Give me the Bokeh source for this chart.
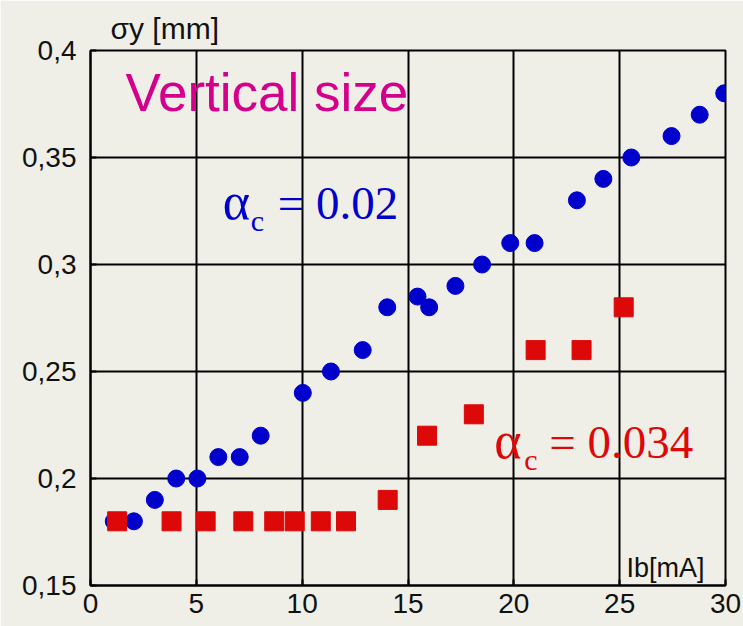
from bokeh.plotting import figure
from bokeh.models import Label, FixedTicker, Range1d, Title
from bokeh.embed import file_html
from bokeh.resources import INLINE

# --- data ---
blue_x = [1.1, 2.05, 3.04, 4.05, 5.05, 6.04, 7.05, 8.04, 10.03, 11.36, 12.86, 14.02,
          15.45, 16.0, 17.24, 18.5, 19.83, 20.98, 22.98, 24.23, 25.55, 27.45, 28.78, 29.94]
blue_y = [0.18, 0.18, 0.19, 0.20, 0.20, 0.21, 0.21, 0.22, 0.24, 0.25, 0.26, 0.28,
          0.285, 0.28, 0.29, 0.30, 0.31, 0.31, 0.33, 0.34, 0.35, 0.36, 0.37, 0.38]
red_x = [1.26, 3.83, 5.44, 7.22, 8.68, 9.65, 10.88, 12.07, 14.04, 15.9, 18.11, 21.03, 23.2, 25.19]
red_y = [0.18, 0.18, 0.18, 0.18, 0.18, 0.18, 0.18, 0.18, 0.19, 0.22, 0.23, 0.26, 0.26, 0.28]

x_ticks = [0, 5, 10, 15, 20, 25, 30]
y_ticks = [0.15, 0.2, 0.25, 0.3, 0.35, 0.4]
y_tick_labels = ["0,15", "0,2", "0,25", "0,3", "0,35", "0,4"]

BG = "#f0efe7"
BLUE = "#0000cc"
RED = "#dd0808"
MAGENTA = "#d4008c"

p = figure(width=743, height=626, x_range=Range1d(0, 30), y_range=Range1d(0.15, 0.4),
           output_backend="svg", toolbar_location=None,
           min_border_left=90, min_border_right=18, min_border_top=50, min_border_bottom=41)
p.background_fill_color = BG
p.border_fill_color = BG
p.outline_line_color = "black"
p.outline_line_width = 2
p.outline_line_alpha = 1.0

title = Title(text="\u03c3y [mm]", align="left", offset=20, standoff=11,
              text_font="Liberation Sans", text_font_size="30px",
              text_font_style="normal", text_color="#111111")
p.add_layout(title, "above")

p.xaxis.ticker = FixedTicker(ticks=x_ticks)
p.yaxis.ticker = FixedTicker(ticks=y_ticks)
p.yaxis.major_label_overrides = {t: l for t, l in zip(y_ticks, y_tick_labels)}
for ax in (p.xaxis, p.yaxis):
    ax.axis_line_color = "black"
    ax.axis_line_width = 2
    ax.major_tick_in = 6
    ax.major_tick_out = 0
    ax.major_tick_line_color = "black"
    ax.major_tick_line_width = 2
    ax.minor_tick_line_color = None
    ax.major_label_text_font = "Liberation Sans"
    ax.major_label_text_font_size = "28px"
    ax.major_label_text_color = "#111111"
p.xaxis.major_label_standoff = 8
p.yaxis.major_label_standoff = 14

p.grid.grid_line_color = "black"
p.grid.grid_line_width = 2
p.grid.grid_line_alpha = 1.0

p.scatter(blue_x, blue_y, marker="circle", size=17, fill_color=BLUE, line_color=BLUE)
p.scatter(red_x, red_y, marker="square", size=19, fill_color=RED, line_color=RED)

def lab(x, y, text, size, color, font="Liberation Sans"):
    p.add_layout(Label(x=x, y=y, text=text, text_font=font, text_font_size=size,
                       text_color=color, text_baseline="alphabetic", text_align="left"))

lab(1.656, 0.3803, "Vertical size", "53px", MAGENTA)

lab(6.25, 0.3295, "\u03b1", "52px", BLUE, "Liberation Serif")
lab(7.57, 0.3205, "c", "30px", BLUE, "Liberation Serif")
lab(8.85, 0.3286, "= 0.02", "47px", BLUE, "Liberation Serif")

lab(19.07, 0.2178, "\u03b1", "52px", RED, "Liberation Serif")
lab(20.49, 0.2088, "c", "30px", RED, "Liberation Serif")
lab(21.67, 0.2169, "= 0.034", "47px", RED, "Liberation Serif")

lab(25.32, 0.1584, "Ib[mA]", "27px", "#111111")

open("out.html", "w").write(file_html(p, INLINE))
